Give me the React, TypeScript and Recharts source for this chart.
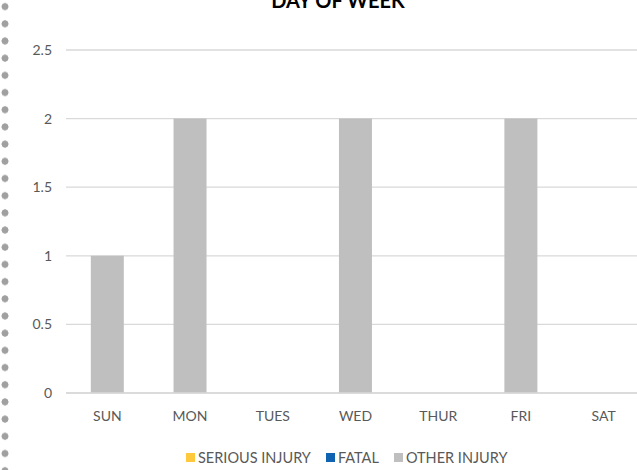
import { BarChart, Bar, XAxis, YAxis, CartesianGrid } from "recharts";

const DAYS = ["SUN", "MON", "TUES", "WED", "THUR", "FRI", "SAT"];
const SERIOUS = [0, 0, 0, 0, 0, 0, 0];
const FATAL = [0, 0, 0, 0, 0, 0, 0];
const OTHER = [1, 2, 0, 2, 0, 2, 0];
const Y_TICKS = [0, 0.5, 1, 1.5, 2, 2.5];

const SERIES = [
  { key: "serious", name: "SERIOUS INJURY", color: "#FFC83D" },
  { key: "fatal", name: "FATAL", color: "#0F63B1" },
  { key: "other", name: "OTHER INJURY", color: "#BFBFBF" },
];

const FONT = "Lato, 'Open Sans', sans-serif";
const TXT = "#595959";

export default function App() {
  const data = DAYS.map((d, i) => ({ day: d, serious: SERIOUS[i], fatal: FATAL[i], other: OTHER[i] }));
  return (
    <div style={{ position: "absolute", left: 0, top: 0, width: 637, height: 470, overflow: "hidden", background: "#fff", fontFamily: FONT }}>
      <div style={{
        position: "absolute", left: 0, top: 0, width: 10, height: 470,
        backgroundImage: "radial-gradient(circle, #A0A0A0 3.2px, transparent 3.8px)",
        backgroundSize: "10px 17.2px", backgroundPosition: "0 -2px", backgroundRepeat: "repeat-y",
      }} />
      <div style={{ position: "absolute", left: 238, width: 200, top: -12, textAlign: "center", fontSize: 20, fontWeight: 700, color: "#000" }}>
        DAY OF WEEK
      </div>
      <BarChart width={650} height={470} data={data} margin={{ top: 50, right: 5, left: 0, bottom: 47 }} barCategoryGap="30%">
        <CartesianGrid vertical={false} stroke="#D9D9D9" strokeWidth={1.3} />
        <XAxis dataKey="day" height={30} axisLine={{ stroke: "#D9D9D9", strokeWidth: 1.3 }} tickLine={false} tickMargin={12}
          tick={{ fontSize: 14, fill: TXT, fontFamily: FONT }} />
        <YAxis width={66} domain={[0, 2.5]} ticks={Y_TICKS} axisLine={false} tickLine={false} tickMargin={8}
          tick={{ fontSize: 14, fill: TXT, fontFamily: FONT }} />
        {SERIES.map(s => (
          <Bar key={s.key} dataKey={s.key} name={s.name} stackId="a" fill={s.color} isAnimationActive={false} />
        ))}
      </BarChart>
      <div style={{ position: "absolute", top: 449, left: 186, display: "flex", alignItems: "center", fontSize: 14.5, color: TXT, whiteSpace: "nowrap" }}>
        {SERIES.map(s => (
          <span key={s.key} style={{ display: "inline-flex", alignItems: "center", marginRight: 15 }}>
            <span style={{ display: "inline-block", width: 9, height: 9, background: s.color, marginRight: 3 }} />
            {s.name}
          </span>
        ))}
      </div>
    </div>
  );
}
